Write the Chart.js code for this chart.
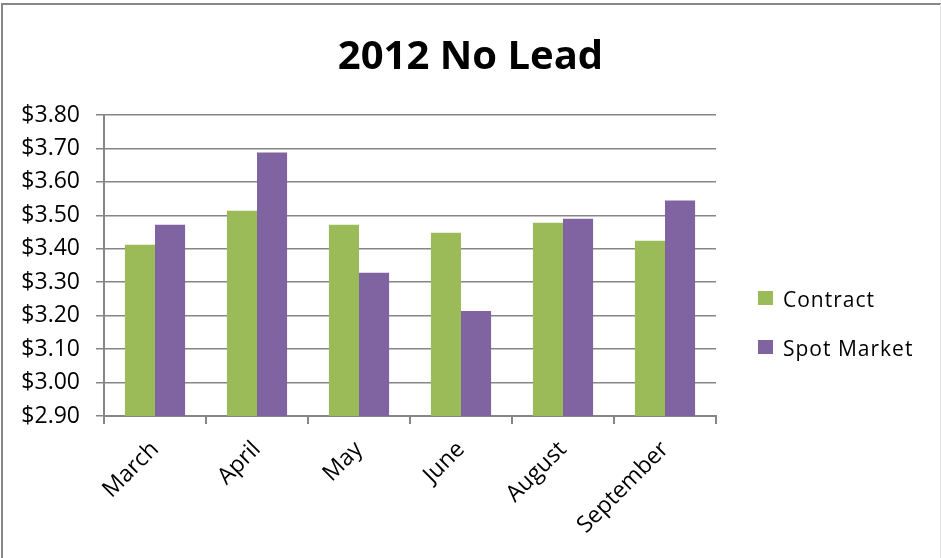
<!DOCTYPE html>
<html>
<head>
<meta charset="utf-8">
<title>2012 No Lead</title>
<script src="https://cdn.jsdelivr.net/npm/chart.js@4.4.0/dist/chart.umd.min.js"></script>
<style>
html, body { margin: 0; padding: 0; background: #fff; }
#wrap { width: 941px; height: 558px; }
</style>
</head>
<body>
<div id="wrap"><canvas id="priceChart" width="941" height="558"></canvas></div>
<script>
// monthly no-lead prices, $ per gallon
var months = ['March', 'April', 'May', 'June', 'August', 'September'];
var contract = [3.412, 3.514, 3.472, 3.448, 3.478, 3.424];
var spotMarket = [3.472, 3.688, 3.328, 3.214, 3.490, 3.544];
var seriesNames = ['Contract', 'Spot Market'];
var seriesColors = ['#9BBB59', '#8064A2'];
var yMin = 2.9, yMax = 3.8, yStep = 0.1;

var fontFamily = '"Open Sans", "Liberation Sans", sans-serif';
var axisGray = '#868686';

// white background + the thin frame round the chart
var framePlugin = {
    id: 'frame',
    beforeDraw: function (chart) {
        var ctx = chart.ctx;
        ctx.save();
        ctx.fillStyle = '#fff';
        ctx.fillRect(0, 0, chart.width, chart.height);
        ctx.restore();
    },
    afterDraw: function (chart) {
        var ctx = chart.ctx;
        ctx.save();
        ctx.strokeStyle = '#878787';
        ctx.lineWidth = 2;
        ctx.beginPath();
        ctx.moveTo(2, chart.height);
        ctx.lineTo(2, 4);
        ctx.lineTo(chart.width, 4);
        ctx.stroke();
        ctx.strokeStyle = '#e2e2e2';
        ctx.lineWidth = 1;
        ctx.beginPath();
        ctx.moveTo(chart.width - 0.5, 4);
        ctx.lineTo(chart.width - 0.5, chart.height);
        ctx.stroke();
        ctx.restore();
    }
};

// legend column on the right: a layout box so the title stays centred on the canvas
var sideLegend = {
    id: 'sideLegend',
    beforeInit: function (chart) {
        var box = {
            position: 'right',
            weight: 1000,
            fullSize: false,
            options: {},
            isHorizontal: function () { return false; },
            update: function (maxWidth, maxHeight) {
                this.width = 225;
                this.height = maxHeight;
            },
            draw: function () {
                var ctx = chart.ctx;
                var x = this.left + 42;
                var y = 291;
                ctx.save();
                ctx.font = '21px ' + fontFamily;
                ctx.letterSpacing = '1px';
                ctx.textBaseline = 'middle';
                ctx.textAlign = 'left';
                chart.data.datasets.forEach(function (ds, i) {
                    var top = y + i * 49;
                    ctx.fillStyle = ds.backgroundColor;
                    ctx.fillRect(x, top, 15, 14);
                    ctx.fillStyle = '#000';
                    ctx.fillText(ds.label, x + 25, top + 10);
                });
                ctx.restore();
            }
        };
        Chart.layouts.addBox(chart, box);
    }
};

var ctx = document.getElementById('priceChart').getContext('2d');
new Chart(ctx, {
    type: 'bar',
    data: {
        labels: months,
        datasets: [
            {
                label: seriesNames[0],
                data: contract,
                backgroundColor: seriesColors[0],
                categoryPercentage: 0.59,
                barPercentage: 1.0
            },
            {
                label: seriesNames[1],
                data: spotMarket,
                backgroundColor: seriesColors[1],
                categoryPercentage: 0.59,
                barPercentage: 1.0
            }
        ]
    },
    options: {
        responsive: false,
        animation: false,
        layout: { padding: 0 },
        plugins: {
            legend: { display: false },
            tooltip: { enabled: false },
            title: {
                display: true,
                text: '2012 No Lead',
                color: '#000',
                font: { family: fontFamily, size: 40, weight: 'bold' },
                padding: { top: 34, bottom: 33 }
            }
        },
        scales: {
            x: {
                grid: {
                    offset: true,
                    drawOnChartArea: false,
                    drawTicks: true,
                    tickLength: 8,
                    color: axisGray,
                    lineWidth: 2
                },
                border: { color: axisGray, width: 2 },
                ticks: {
                    minRotation: 45,
                    maxRotation: 45,
                    color: '#000',
                    padding: 12,
                    font: { family: fontFamily, size: 23 }
                },
                afterFit: function (scale) { scale.height = 142; }
            },
            y: {
                min: yMin,
                max: yMax,
                grid: { color: axisGray, lineWidth: 1.5, tickLength: 8 },
                border: { color: axisGray, width: 2 },
                ticks: {
                    stepSize: yStep,
                    color: '#000',
                    padding: 16,
                    font: { family: fontFamily, size: 23 },
                    callback: function (v) { return '$' + Number(v).toFixed(2); }
                },
                afterFit: function (scale) { scale.width = 104; }
            }
        }
    },
    plugins: [framePlugin, sideLegend]
});
</script>
</body>
</html>
